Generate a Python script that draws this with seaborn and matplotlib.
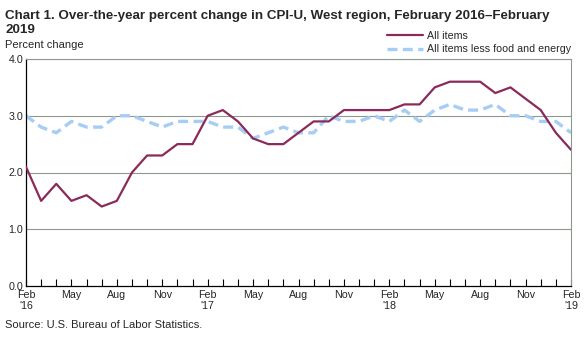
import matplotlib
matplotlib.use("Agg")
import matplotlib.pyplot as plt
import seaborn as sns
import pandas as pd
import numpy as np

months = ["Feb 2016","Mar 2016","Apr 2016","May 2016","Jun 2016","Jul 2016","Aug 2016","Sep 2016","Oct 2016","Nov 2016","Dec 2016",
          "Jan 2017","Feb 2017","Mar 2017","Apr 2017","May 2017","Jun 2017","Jul 2017","Aug 2017","Sep 2017","Oct 2017","Nov 2017","Dec 2017",
          "Jan 2018","Feb 2018","Mar 2018","Apr 2018","May 2018","Jun 2018","Jul 2018","Aug 2018","Sep 2018","Oct 2018","Nov 2018","Dec 2018",
          "Jan 2019","Feb 2019"]
all_items = [2.1,1.5,1.8,1.5,1.6,1.4,1.5,2.0,2.3,2.3,2.5,
             2.5,3.0,3.1,2.9,2.6,2.5,2.5,2.7,2.9,2.9,3.1,3.1,
             3.1,3.1,3.2,3.2,3.5,3.6,3.6,3.6,3.4,3.5,3.3,3.1,
             2.7,2.4]
core = [3.0,2.8,2.7,2.9,2.8,2.8,3.0,3.0,2.9,2.8,2.9,
        2.9,2.9,2.8,2.8,2.6,2.7,2.8,2.7,2.7,3.0,2.9,2.9,
        3.0,2.9,3.1,2.9,3.1,3.2,3.1,3.1,3.2,3.0,3.0,2.9,
        2.9,2.7]
tick_labels = ["Feb\n'16","May","Aug","Nov","Feb\n'17","May","Aug","Nov","Feb\n'18","May","Aug","Nov","Feb\n'19"]
y_ticks = [0.0,1.0,2.0,3.0,4.0]
title_lines = ["Chart 1. Over-the-year percent change in CPI-U, West region, February 2016\u2013February", "2019"]

sns.set_style("white")
plt.rcParams['font.family'] = ['Liberation Sans', 'DejaVu Sans']

df = pd.DataFrame({"idx": np.arange(len(months)), "All items": all_items,
                   "All items less food and energy": core})

W, H = 588, 337
fig = plt.figure(figsize=(W/100, H/100), dpi=100)
ax = fig.add_axes([26/W, 1-286/H, (571-26)/W, (286-59)/H])

grid_color = "#8c9a8c"
for v in y_ticks[1:]:
    ax.axhline(v, color=grid_color, lw=0.8, zorder=0)

sns.lineplot(data=df, x="idx", y="All items", ax=ax, color="#8b2a5a", lw=1.6,
             label="All items", zorder=3)
sns.lineplot(data=df, x="idx", y="All items less food and energy", ax=ax, color="#a6cdf5",
             lw=2.4, linestyle=(0, (3, 1.6)), label="All items less food and energy", zorder=2)

ax.set_xlim(0, len(months)-1)
ax.set_ylim(0, 4)
ax.set_yticks(y_ticks)
ax.set_yticklabels([f"{v:.1f}" for v in y_ticks], fontsize=7.7)
ax.set_xticks(np.arange(0, len(months), 3))
ax.set_xticklabels(tick_labels, fontsize=7.7, linespacing=1.05)
ax.set_xticks(np.arange(len(months)), minor=True)
ax.tick_params(axis='x', which='both', direction='in', length=5, width=0.8, color='black', pad=3, bottom=True)
ax.tick_params(axis='y', which='both', length=0, pad=2)
ax.set_xlabel("")
ax.set_ylabel("")

for s in ["left", "bottom"]:
    ax.spines[s].set_color("black")
    ax.spines[s].set_linewidth(0.9)
for s in ["top", "right"]:
    ax.spines[s].set_color(grid_color)
    ax.spines[s].set_linewidth(0.8)

leg = ax.legend(loc="upper left", bbox_to_anchor=(386/W, 1-30/H), bbox_transform=fig.transFigure,
                frameon=False, fontsize=7.7,
                handlelength=3.4, handletextpad=0.35, labelspacing=0.3, borderaxespad=0.0,
                borderpad=0.1)

fig.text(5/W, 1-18.5/H, title_lines[0], fontsize=9.6, fontweight='bold', va='baseline', ha='left')
fig.text(5/W, 1-32.8/H, title_lines[1], fontsize=9.6, fontweight='bold', va='baseline', ha='left')
fig.text(5/W, 1-45/H, "Percent change", fontsize=8, va='center', ha='left')
fig.text(5/W, 1-325.5/H, "Source: U.S. Bureau of Labor Statistics.", fontsize=8, va='center', ha='left')

fig.savefig("out.png", dpi=100)
